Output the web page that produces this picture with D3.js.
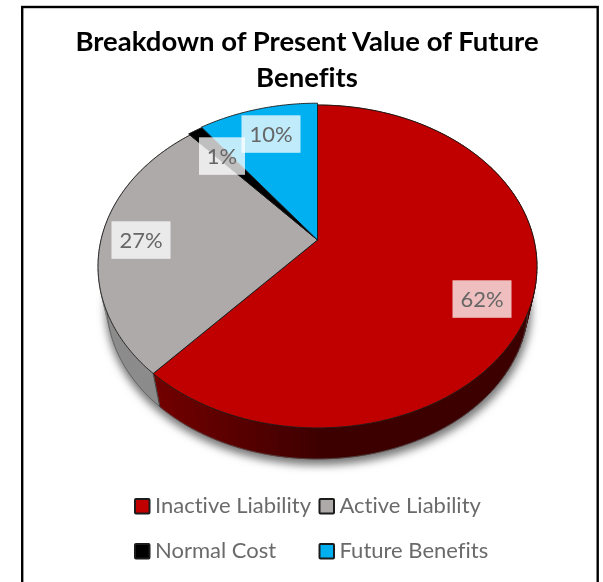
<!DOCTYPE html>
<html>
<head>
<meta charset="utf-8">
<script src="https://cdn.jsdelivr.net/npm/d3@7"></script>
<style>
  html, body { margin: 0; padding: 0; background: #fff; }
  svg { display: block; }
  text { font-family: Lato, "Open Sans", sans-serif; font-variant-ligatures: none; }
</style>
</head>
<body>
<script>
// values, share of present value in %
var categories = ["Inactive Liability", "Active Liability", "Normal Cost", "Future Benefits"];
var shares = [61.6, 26.9, 1.3, 10.2];
var titleLines = ["Breakdown of Present Value of Future", "Benefits"];

var width = 603;
var height = 582;

var topColors = ["#c00000", "#aeaaaa", "#000000", "#00b0f0"];
var wallLeft = ["#740000", "#8c8c8c", "#000000", "#00b0f0"];
var wallRight = ["#3c0000", "#6f6f6f", "#000000", "#00b0f0"];

// where the % boxes sit, same order as categories
var labelPos = [[482, 299], [141, 240], [222, 156], [271, 134]];

// pie is tilted with perspective, so the apex is above the middle of the ellipse
var apex = [317.5, 240];
var rx = 216.5, ry = 157.1, persp = -0.164;
var wallScale = 0.96, wallDrop = 38.5;

function project(angle, r) {
    var u = r * Math.sin(angle), v = -r * Math.cos(angle);
    var w = 1 + persp * v;
    return [apex[0] + rx * u / w, apex[1] + ry * v / w];
}
function projectLow(angle, r) {
    var p = project(angle, r);
    return [apex[0] + wallScale * (p[0] - apex[0]), apex[1] + wallScale * (p[1] - apex[1]) + wallDrop];
}
function arcAngles(a0, a1, step) {
    return d3.range(a0, a1, step).concat([a1]);
}

var svg = d3.select("body").append("svg")
    .attr("width", width)
    .attr("height", height);

var defs = svg.append("defs");
defs.append("filter").attr("id", "shadow")
    .attr("x", "-10%").attr("y", "-10%").attr("width", "120%").attr("height", "120%")
    .append("feGaussianBlur").attr("stdDeviation", 4);
var soft = defs.append("filter").attr("id", "soft");
soft.append("feGaussianBlur").attr("stdDeviation", 0.4);

var root = svg.append("g").attr("filter", "url(#soft)");

// frame
root.append("rect")
    .attr("x", 22.2).attr("y", 7)
    .attr("width", 575.5).attr("height", 590)
    .attr("fill", "#fff").attr("stroke", "#000").attr("stroke-width", 2.4);

// title
root.append("g").selectAll("text")
    .data(titleLines)
    .enter().append("text")
    .attr("x", 307)
    .attr("y", function (d, i) { return 51 + i * 36; })
    .attr("text-anchor", "middle")
    .attr("font-size", 27.5)
    .attr("font-weight", 700)
    .attr("fill", "#000")
    .text(function (d) { return d; });

var pie = d3.pie().sort(null).value(function (d) { return d; });
var slices = pie(shares);
var line = d3.line();
var fullCircle = arcAngles(0, 2 * Math.PI, 0.02);

// soft shadow under the pie
root.append("path")
    .attr("d", line(fullCircle.map(function (a) {
        var p = projectLow(a, 1.01);
        return [p[0] + 1, p[1] + 4];
    })) + "Z")
    .attr("fill", "#777")
    .attr("filter", "url(#shadow)");

// side wall, cut in narrow bands so the shade changes along it
var wallGroup = root.append("g");
var shade = d3.scaleLinear().domain([150, 330]).clamp(true);
slices.forEach(function (s, i) {
    var angles = arcAngles(s.startAngle, s.endAngle, 0.03);
    var bands = d3.pairs(angles);
    var colour = d3.interpolateRgb(wallLeft[i], wallRight[i]);
    wallGroup.selectAll(null)
        .data(bands)
        .enter().append("path")
        .attr("d", function (b) {
            return line([project(b[0], 1), project(b[1], 1), projectLow(b[1], 1), projectLow(b[0], 1)]) + "Z";
        })
        .attr("fill", function (b) { return colour(shade(project(b[0], 1)[0])); })
        .attr("stroke", function (b) { return colour(shade(project(b[0], 1)[0])); })
        .attr("stroke-width", 0.7);
});

// outline of the wall bottom and the one visible wall edge
root.append("path")
    .attr("d", line(arcAngles(Math.PI * 0.55, Math.PI * 1.55, 0.02).map(function (a) { return projectLow(a, 1); })))
    .attr("fill", "none").attr("stroke", "#555").attr("stroke-width", 0.7);
root.append("path")
    .attr("d", line([project(slices[0].endAngle, 1), projectLow(slices[0].endAngle, 1)]))
    .attr("stroke", "#333").attr("stroke-width", 0.8);

// top faces, the last slice sits a little proud of the rest
var outer = [1, 1, 1.012, 1.016];
root.append("g").selectAll("path")
    .data(slices)
    .enter().append("path")
    .attr("d", function (s, i) {
        var pts = arcAngles(s.startAngle, s.endAngle, 0.01).map(function (a) { return project(a, outer[i]); });
        return line([apex].concat(pts)) + "Z";
    })
    .attr("fill", function (s, i) { return topColors[i]; })
    .attr("stroke", "#1a1a1a")
    .attr("stroke-width", 0.9)
    .attr("stroke-linejoin", "round");

// % labels on translucent boxes
var label = root.append("g").selectAll("g")
    .data(slices)
    .enter().append("g")
    .attr("transform", function (s, i) { return "translate(" + labelPos[i] + ")"; });

label.append("rect")
    .attr("x", function (s, i) { return i === 2 ? -23 : -29.5; })
    .attr("y", -18.7)
    .attr("width", function (s, i) { return i === 2 ? 46 : 59; })
    .attr("height", 37.5)
    .attr("fill", "#fff")
    .attr("fill-opacity", 0.75);

label.append("text")
    .attr("text-anchor", "middle")
    .attr("y", 8)
    .attr("font-size", 22)
    .attr("fill", "#666")
    .text(function (s) { return d3.format(".0f")(s.data) + "%"; });

// legend, two rows of two
var legendX = d3.scaleOrdinal().domain([0, 1]).range([134, 318.5]);
var legendY = d3.scaleOrdinal().domain([0, 1]).range([498, 543]);
var legend = root.append("g").selectAll("g")
    .data(categories)
    .enter().append("g")
    .attr("transform", function (d, i) {
        return "translate(" + legendX(i % 2) + "," + legendY(Math.floor(i / 2)) + ")";
    });

legend.append("rect")
    .attr("x", 1).attr("y", 1)
    .attr("width", 14.5).attr("height", 14.5)
    .attr("rx", 1)
    .attr("fill", function (d, i) { return topColors[i]; })
    .attr("stroke", "#1a1a1a")
    .attr("stroke-width", 2);

legend.append("text")
    .attr("x", 21)
    .attr("y", 15)
    .attr("font-size", 22)
    .attr("fill", "#6b6b6b")
    .text(function (d) { return d; });
</script>
</body>
</html>
